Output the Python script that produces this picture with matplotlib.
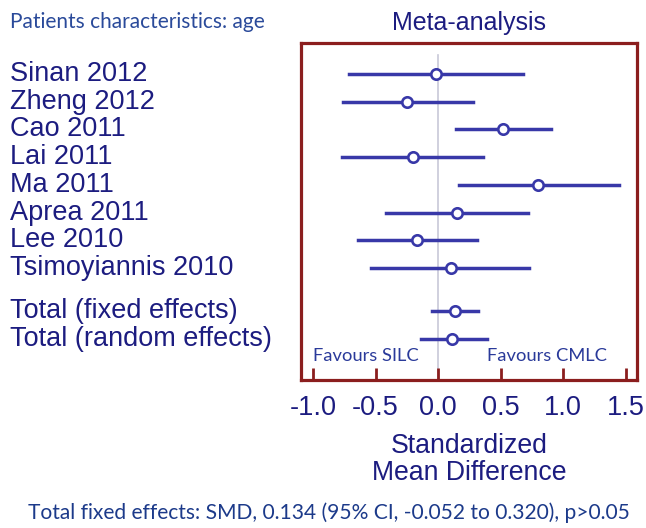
import matplotlib
matplotlib.use("Agg")
import matplotlib.pyplot as plt
import numpy as np

# study estimates (SMD) with 95% CI
studies = ["Sinan 2012", "Zheng 2012", "Cao 2011", "Lai 2011", "Ma 2011",
           "Aprea 2011", "Lee 2010", "Tsimoyiannis 2010",
           "Total (fixed effects)", "Total (random effects)"]
smd = [-0.02, -0.25, 0.52, -0.20, 0.80, 0.15, -0.17, 0.10, 0.134, 0.11]
ci_low = [-0.71, -0.76, 0.14, -0.77, 0.17, -0.42, -0.64, -0.54, -0.052, -0.14]
ci_high = [0.68, 0.28, 0.90, 0.36, 1.45, 0.72, 0.31, 0.73, 0.320, 0.39]
rows = [0, 1, 2, 3, 4, 5, 6, 7, 8.55, 9.55]
xticks = [-1.0, -0.5, 0.0, 0.5, 1.0, 1.5]

navy = "#1c1c80"
line_col = "#3838a8"
frame_col = "#8b1e1e"

fig = plt.figure(figsize=(6.46, 5.28), dpi=100)
ax = fig.add_axes([0.466, 0.280, 0.520, 0.639])

ax.axvline(0, ymin=0, ymax=0.964, color="#c8c8d8", lw=1.2, zorder=1)
for y, m, lo, hi in zip(rows, smd, ci_low, ci_high):
    ax.plot([lo, hi], [y, y], color=line_col, lw=2.5, zorder=2)
    ax.plot(m, y, "o", ms=7.5, mfc="white", mec=line_col, mew=1.9, zorder=3)

ax.set_xlim(-1.096, 1.59)
ax.set_ylim(11.03, -1.12)
ax.set_yticks([])
ax.set_xticks(xticks)
ax.set_xticklabels(["%.1f" % t for t in xticks], family="Liberation Sans",
                   fontsize=19.5, color=navy)
ax.tick_params(axis="x", direction="in", length=9, width=2, color=frame_col, pad=11)
for s in ax.spines.values():
    s.set_color(frame_col)
    s.set_linewidth(2.3)

ax.set_xlabel("Standardized\nMean Difference", family="Liberation Sans",
              fontsize=19.2, color=navy, labelpad=8, linespacing=1.05)
ax.set_title("Meta-analysis", family="Liberation Sans", fontsize=18,
             color=navy, pad=9)

ax.text(-0.58, 10.16, "Favours SILC", family="Lato", fontsize=13.2,
        color="#2a3a9a", ha="center", va="center")
ax.text(0.87, 10.16, "Favours CMLC", family="Lato", fontsize=13.2,
        color="#2a3a9a", ha="center", va="center")

# study labels on the left, aligned with rows
for y, name in zip(rows, studies):
    yf = ax.transData.transform((0, y))[1]
    fig.text(10 / 646, yf / 528, name, family="Liberation Sans", fontsize=19.5,
             color=navy, ha="left", va="center")

fig.text(10 / 646, 1 - 22 / 528, "Patients characteristics: age", family="Lato",
         fontsize=15, color="#2a4a9a", ha="left", va="center")
fig.text(28 / 646, 1 - 513 / 528,
         "Total fixed effects: SMD, 0.134 (95% CI, -0.052 to 0.320), p>0.05",
         family="Lato", fontsize=15.1, color="#1c3a8a", ha="left", va="center")

fig.savefig("out.png", dpi=100)
